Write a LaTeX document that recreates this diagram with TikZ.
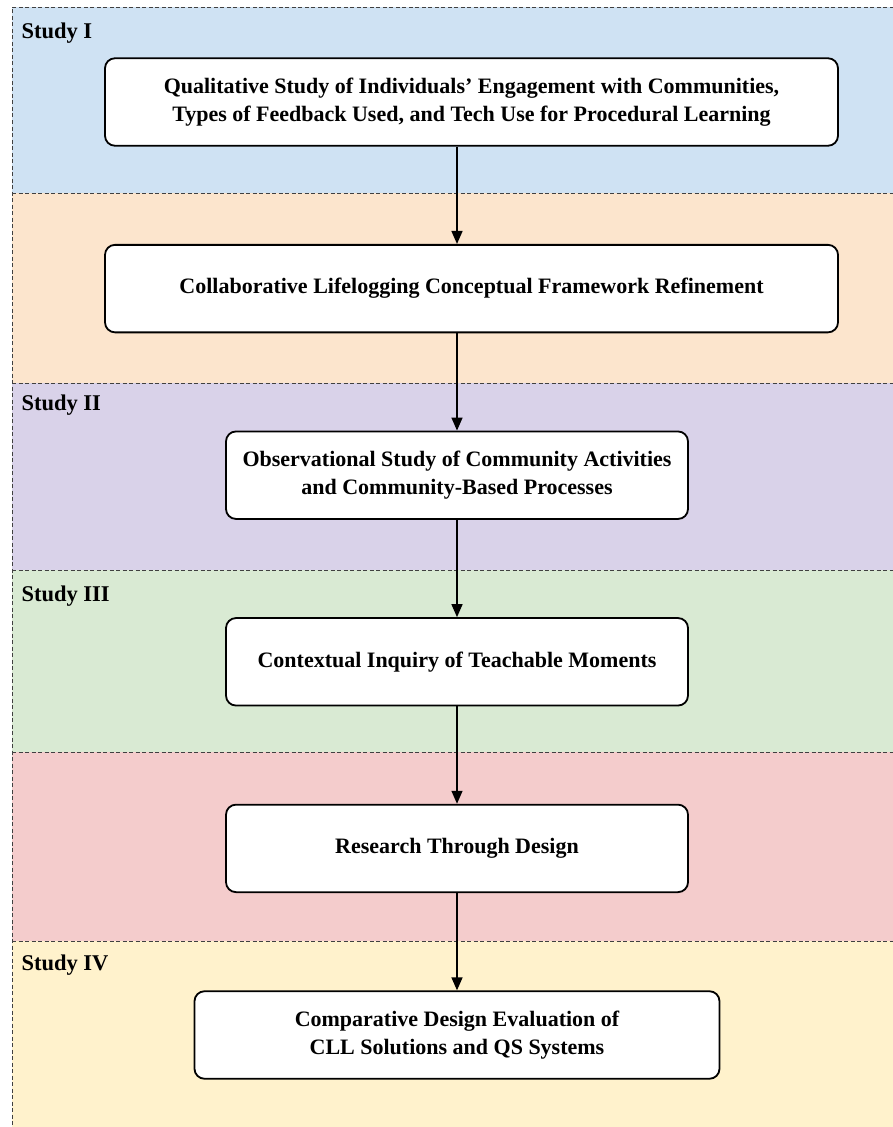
\documentclass[tikz,border=0pt]{standalone}
\usepackage{fontspec}
\setmainfont{Liberation Serif}
\usetikzlibrary{positioning, arrows.meta}
\definecolor{bandblue}{HTML}{CFE2F3}
\definecolor{bandorange}{HTML}{FCE5CD}
\definecolor{bandpurple}{HTML}{D9D2E9}
\definecolor{bandgreen}{HTML}{D9EAD3}
\definecolor{bandred}{HTML}{F4CCCC}
\definecolor{bandyellow}{HTML}{FFF2CC}
\tikzstyle{band} = [draw=black!75, line width=0.9pt, dash pattern=on 4pt off 2.5pt]
\tikzstyle{studybox} = [rectangle, rounded corners=10pt, minimum height=87.5pt, text centered, align=center, draw=black, line width=1.8pt, fill=white, font=\fontsize{22}{28}\selectfont\bfseries]
\tikzstyle{studylabel} = [anchor=west, font=\fontsize{22.5}{26}\selectfont\bfseries]
\tikzstyle{arrow} = [line width=1.5pt, -{Triangle[length=13pt, width=11pt]}]

\begin{document}
\begin{tikzpicture}[x=1pt, y=1pt, node distance=97.3pt]
\useasboundingbox (0,0) rectangle (893,-1127);

\fill[bandblue] (12,-7) rectangle (900,-193);
\fill[bandorange] (12,-193) rectangle (900,-383);
\fill[bandpurple] (12,-383) rectangle (900,-570);
\fill[bandgreen] (12,-570) rectangle (900,-752);
\fill[bandred] (12,-752) rectangle (900,-941);
\fill[bandyellow] (12,-941) rectangle (900,-1135);
\draw[band] (900,-7) -- (12,-7) -- (12,-1135);
\foreach \y in {193,383,570,752,941}
  \draw[band] (12,-\y) -- (900,-\y);

\node (lab1) [studylabel] at (18,-33) {Study I};
\node (lab2) [studylabel] at (18,-405) {Study II};
\node (lab3) [studylabel] at (18,-596) {Study III};
\node (lab4) [studylabel] at (18,-965) {Study IV};

\node (qual) [studybox, minimum width=733pt] at (471.5,-102) {Qualitative Study of Individuals’ Engagement with Communities,\\Types of Feedback Used, and Tech Use for Procedural Learning};

\node (frame) [studybox, minimum width=733pt, below=of qual] {Collaborative Lifelogging Conceptual Framework Refinement};

\node (obs) [studybox, minimum width=462pt, below=of frame, xshift=-14.5pt] {Observational Study of Community Activities\\and Community-Based Processes};

\node (ctx) [studybox, minimum width=462pt, below=of obs] {Contextual Inquiry of Teachable Moments};

\node (rtd) [studybox, minimum width=462pt, below=of ctx] {Research Through Design};

\node (eval) [studybox, minimum width=525pt, below=of rtd] {Comparative Design Evaluation of\\CLL Solutions and QS Systems};

\draw [arrow] (qual.south -| obs.north) -- (frame.north -| obs.north);
\draw [arrow] (frame.south -| obs.north) -- (obs.north);
\draw [arrow] (obs) -- (ctx);
\draw [arrow] (ctx) -- (rtd);
\draw [arrow] (rtd) -- (eval);

\end{tikzpicture}
\end{document}
